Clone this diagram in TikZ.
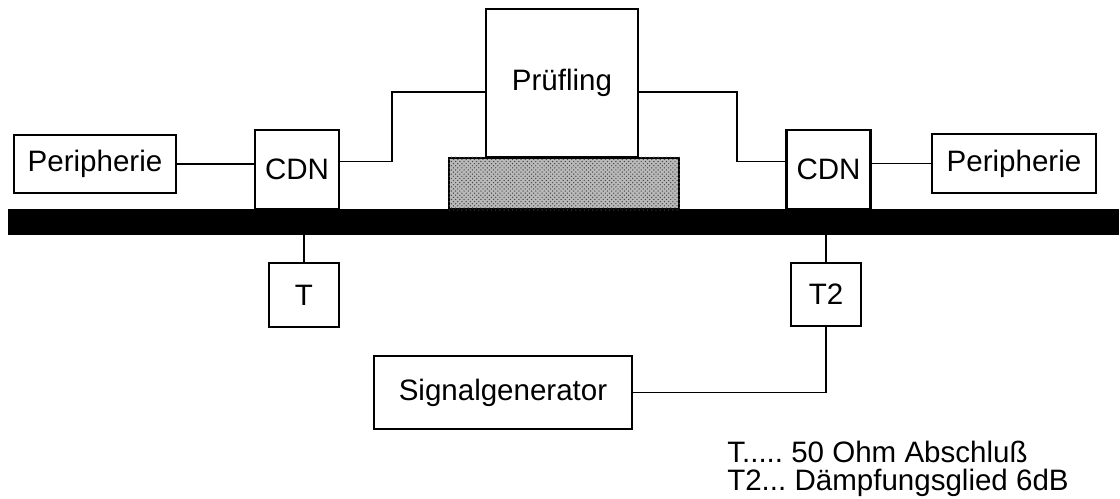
\documentclass[tikz,border=0pt]{standalone}
\usepackage{fontspec}
\setmainfont{Liberation Sans}
\usepackage{tikz}
\usetikzlibrary{calc,patterns}
\definecolor{stonegray}{RGB}{185,185,185}
\definecolor{stonedots}{RGB}{70,70,70}
\tikzset{
  wire/.style={black,line width=1.4pt},
  box/.style={draw=black,line width=1.5pt,fill=white,inner sep=0pt,
              font=\fontsize{21}{24}\selectfont},
  plate/.style={draw=black,fill=black,inner sep=0pt},
  stone/.style={draw=black,line width=1.5pt,fill=stonegray,inner sep=0pt},
  legend/.style={inner sep=0pt,align=left,font=\fontsize{21}{19.9}\selectfont},
}
\frenchspacing
\begin{document}
\begin{tikzpicture}[x=0.025cm,y=-0.025cm]
  \path[use as bounding box,fill=white] (0,0) rectangle (1120,499);

  \node[plate,minimum width=27.75cm,minimum height=0.625cm] (PLATE) at (563,221.5) {};
  \node[stone,minimum width=5.75cm,minimum height=1.275cm] (STONE) at (564,183.5) {};
  \fill[pattern=crosshatch dots,pattern color=stonedots]
    (STONE.south west) rectangle (STONE.north east);

  \node[box,minimum width=3.8cm,minimum height=3.7cm] (PRUEF) at (562,83) {Prüfling};
  \node[box,minimum width=4.05cm,minimum height=1.45cm] (PERIL) at (95,164) {Peripherie};
  \node[box,minimum width=2.1cm,minimum height=1.975cm] (CDNL) at (297,169.5) {CDN};
  \node[box,minimum width=2.1cm,minimum height=1.975cm] (CDNR) at (828.5,169.5) {CDN};
  \node[box,minimum width=4.1cm,minimum height=1.475cm] (PERIR) at (1014,163.5) {Peripherie};
  \node[box,minimum width=1.75cm,minimum height=1.6cm] (TERM) at (304,295) {T};
  \node[box,minimum width=1.75cm,minimum height=1.575cm] (ATT) at (826,294.5) {T2};
  \node[box,minimum width=6.45cm,minimum height=1.825cm] (GEN) at (503,392.5) {Signalgenerator};

  \coordinate (BENDL) at (392,92);
  \coordinate (BENDR) at (737,92);
  \draw[wire] (PERIL.east) -- (PERIL.east -| CDNL.west);
  \draw[wire] ([yshift=2mm]CDNL.east) -| (BENDL) -- (BENDL -| PRUEF.west);
  \draw[wire] (PRUEF.east |- BENDR) -- (BENDR) |- ([yshift=2mm]CDNR.west);
  \draw[wire] (PERIR.west) -- (PERIR.west -| CDNR.east);
  \draw[wire] (TERM.north) -- (TERM.north |- PLATE.south);
  \draw[wire] (ATT.north) -- (ATT.north |- PLATE.south);
  \draw[wire] (ATT.south) |- (GEN.east);

  \node[legend,anchor=north west] (KEY) at (727,441)
    {T..... 50 Ohm Abschluß\\T2... Dämpfungsglied 6dB};
\end{tikzpicture}
\end{document}
